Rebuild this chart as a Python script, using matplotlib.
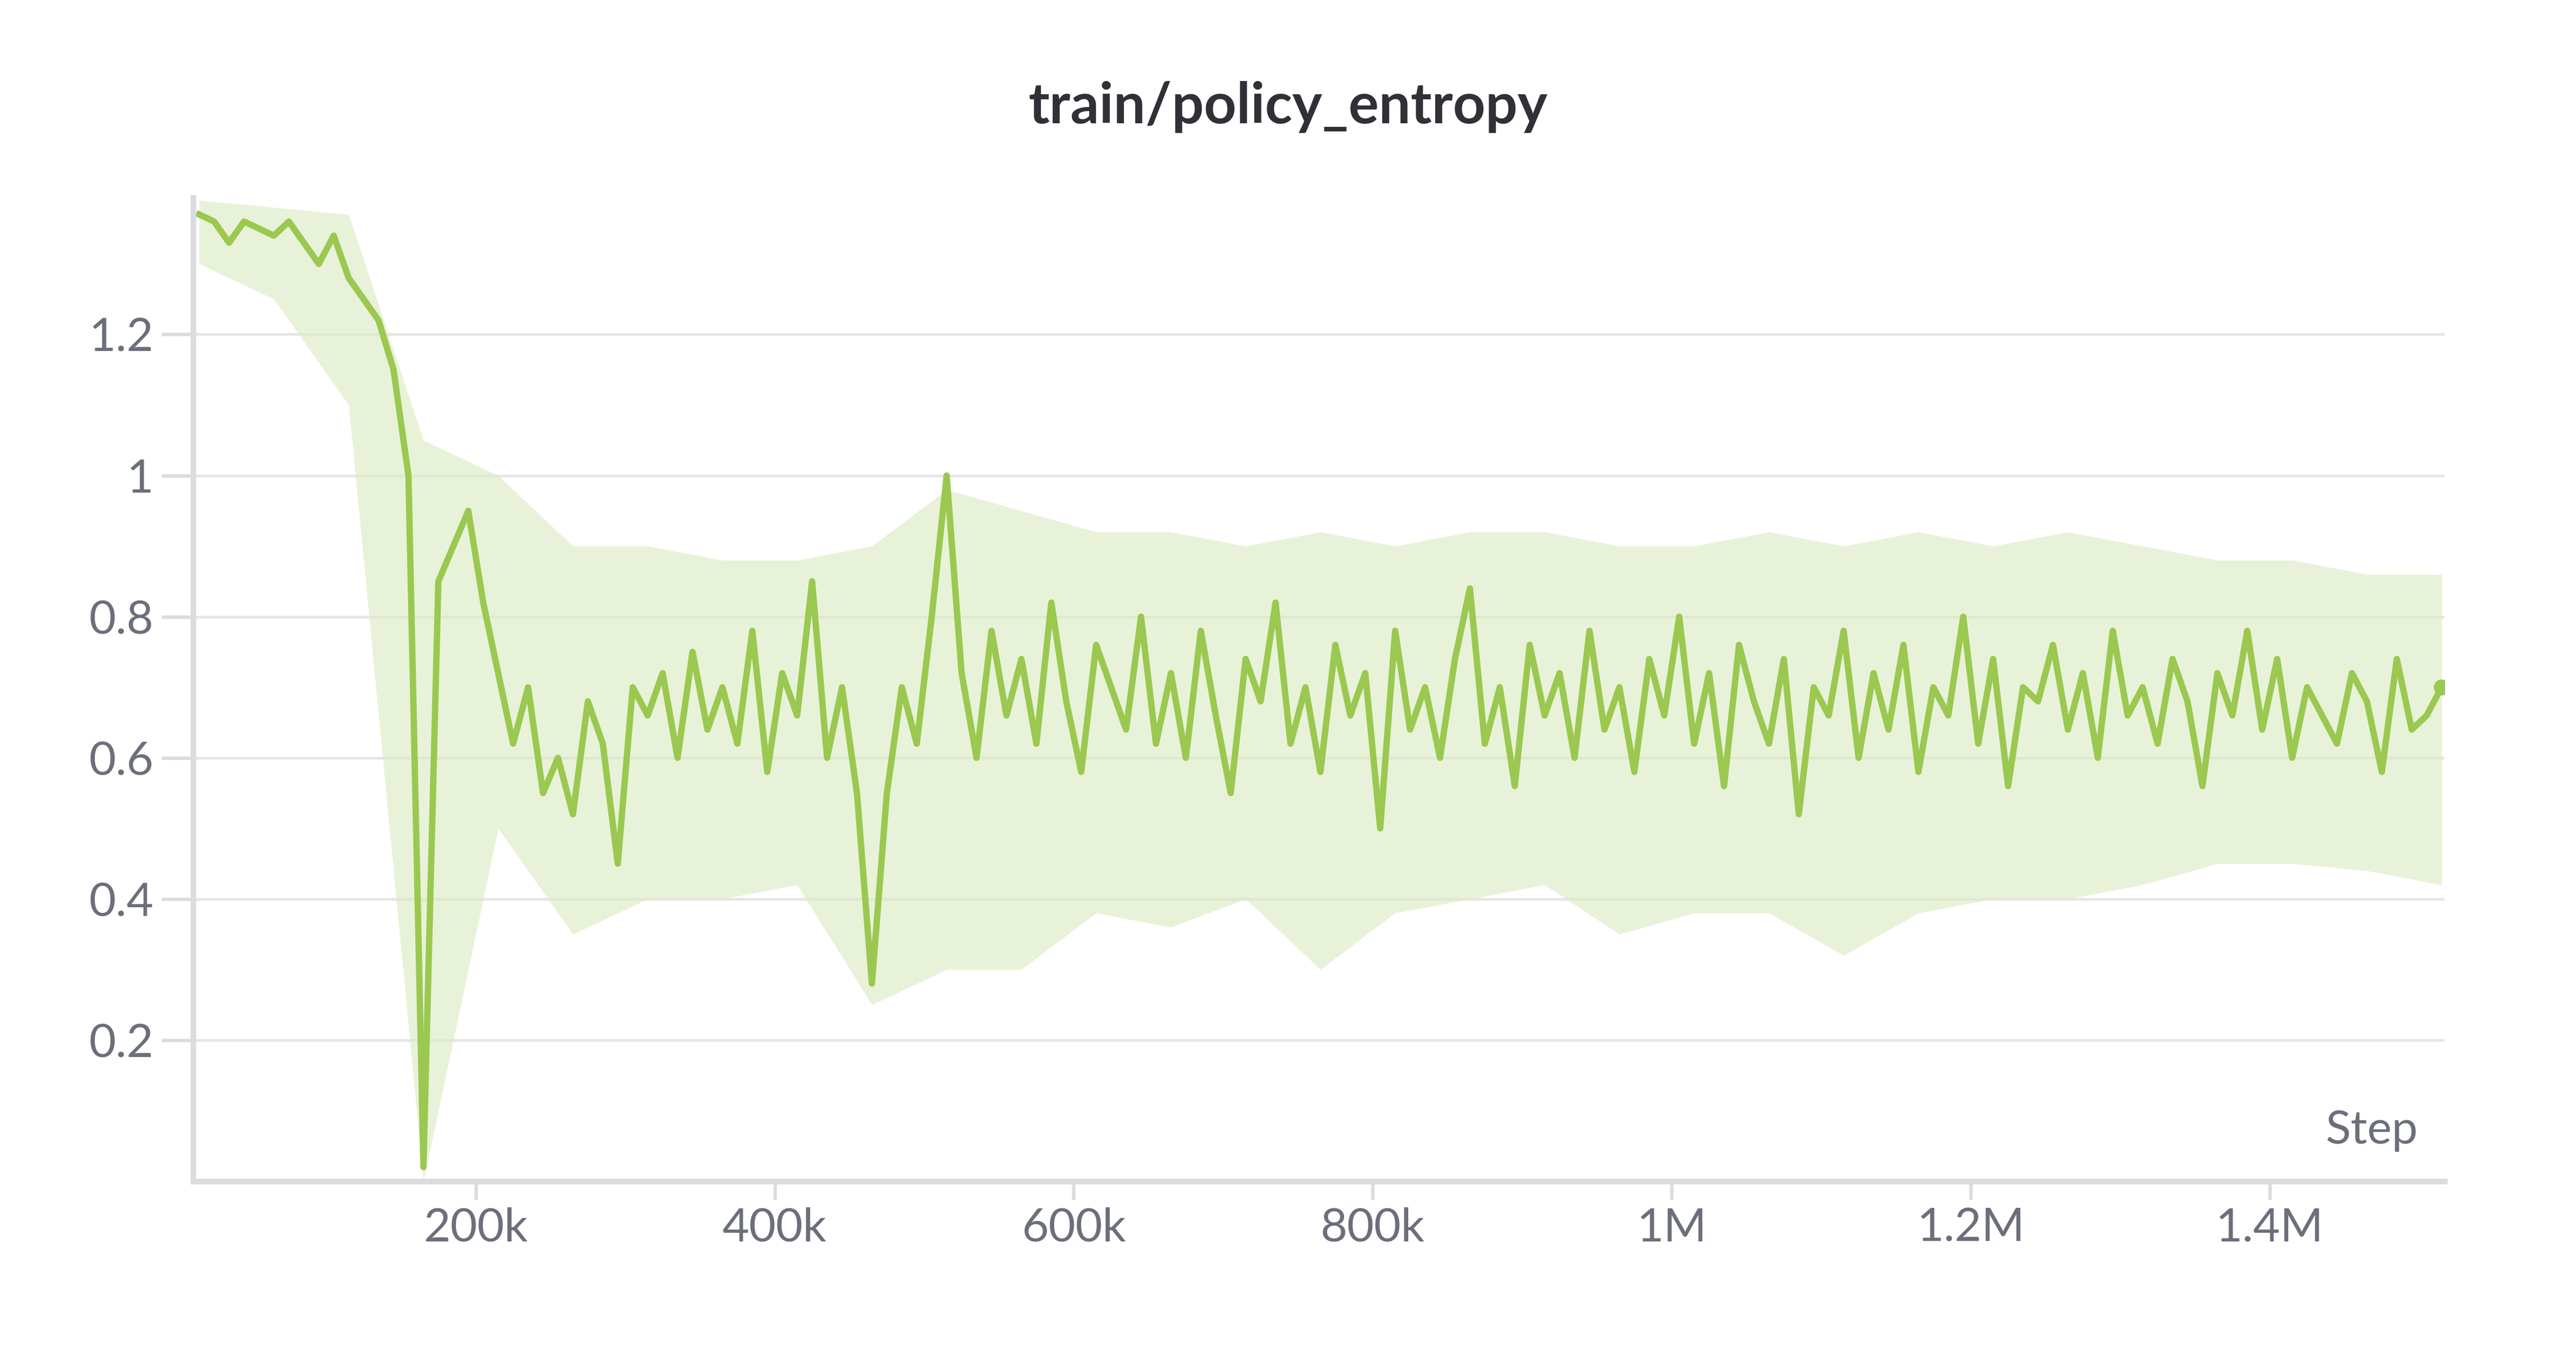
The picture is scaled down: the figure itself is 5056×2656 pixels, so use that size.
import numpy as np
import matplotlib
matplotlib.use("Agg")
import matplotlib.pyplot as plt
from matplotlib.ticker import FuncFormatter

plt.rcParams['font.family'] = ['Lato', 'DejaVu Sans']

steps = np.arange(15000, 1515001, 10000)
entropy = [1.37,1.36,1.33,1.36,1.35,1.34,1.36,1.33,1.30,1.34,1.28,1.25,1.22,1.15,1.00,
           0.02,0.85,0.90,0.95,0.82,0.72,0.62,0.70,0.55,0.60,
           0.52,0.68,0.62,0.45,0.70,0.66,0.72,0.60,0.75,0.64,
           0.70,0.62,0.78,0.58,0.72,0.66,0.85,0.60,0.70,0.55,
           0.28,0.55,0.70,0.62,0.80,1.00,0.72,0.60,0.78,0.66,
           0.74,0.62,0.82,0.68,0.58,0.76,0.70,0.64,0.80,0.62,
           0.72,0.60,0.78,0.66,0.55,0.74,0.68,0.82,0.62,0.70,
           0.58,0.76,0.66,0.72,0.50,0.78,0.64,0.70,0.60,0.74,
           0.84,0.62,0.70,0.56,0.76,0.66,0.72,0.60,0.78,0.64,
           0.70,0.58,0.74,0.66,0.80,0.62,0.72,0.56,0.76,0.68,
           0.62,0.74,0.52,0.70,0.66,0.78,0.60,0.72,0.64,0.76,
           0.58,0.70,0.66,0.80,0.62,0.74,0.56,0.70,0.68,0.76,
           0.64,0.72,0.60,0.78,0.66,0.70,0.62,0.74,0.68,0.56,
           0.72,0.66,0.78,0.64,0.74,0.60,0.70,0.66,0.62,0.72,
           0.68,0.58,0.74,0.64,0.66,0.70]

band_steps = np.arange(15000, 1515001, 50000)
band_low = [1.30,1.25,1.10,0.00,0.50,0.35,0.40,0.40,0.42,0.25,0.30,0.30,0.38,0.36,0.40,0.30,
            0.38,0.40,0.42,0.35,0.38,0.38,0.32,0.38,0.40,0.40,0.42,0.45,0.45,0.44,0.42]
band_high = [1.39,1.38,1.37,1.05,1.00,0.90,0.90,0.88,0.88,0.90,0.98,0.95,0.92,0.92,0.90,0.92,
             0.90,0.92,0.92,0.90,0.90,0.92,0.90,0.92,0.90,0.92,0.90,0.88,0.88,0.86,0.86]

yticks = [0.2, 0.4, 0.6, 0.8, 1.0, 1.2]
xticks = [200000, 400000, 600000, 800000, 1000000, 1200000, 1400000]
xlabels = ["200k", "400k", "600k", "800k", "1M", "1.2M", "1.4M"]

green = "#9bc850"
fig = plt.figure(figsize=(15.8, 8.3), dpi=320)
ax = fig.add_axes([0.075, 0.127, 0.885 - 0.011, 0.727])
ax.fill_between(band_steps, band_low, band_high, color="#dcecc3", alpha=0.65, lw=0)
ax.plot(steps, entropy, color=green, lw=2.8)
ax.plot(steps[-1], entropy[-1], 'o', color=green, ms=6)

ax.set_xlim(11000, 1517000)
ax.set_ylim(0.0, 1.394)
ax.set_yticks(yticks)
ax.yaxis.set_major_formatter(FuncFormatter(lambda v, p: "1" if abs(v-1) < 1e-9 else f"{v:g}"))
ax.set_xticks(xticks)
ax.set_xticklabels(xlabels)
ax.grid(axis='y', color="#e6e6e6", lw=1.2)
ax.set_axisbelow(True)
for s in ["top", "right"]:
    ax.spines[s].set_visible(False)
for s in ["left", "bottom"]:
    ax.spines[s].set_color("#dcdcdf")
    ax.spines[s].set_linewidth(2.5)
ax.tick_params(axis='both', colors="#dcdcdf", labelcolor="#6b6f7b", labelsize=20.5, length=8, width=1.5)
ax.tick_params(axis='y', length=14)
ax.text(0.988, 0.03, "Step", transform=ax.transAxes, ha='right', va='bottom', fontsize=20.5, color="#6b6f7b")
fig.suptitle("train/policy_entropy", y=0.94, fontsize=25, fontweight='bold', color="#2f3136")
fig.savefig("out.png", dpi=320)
